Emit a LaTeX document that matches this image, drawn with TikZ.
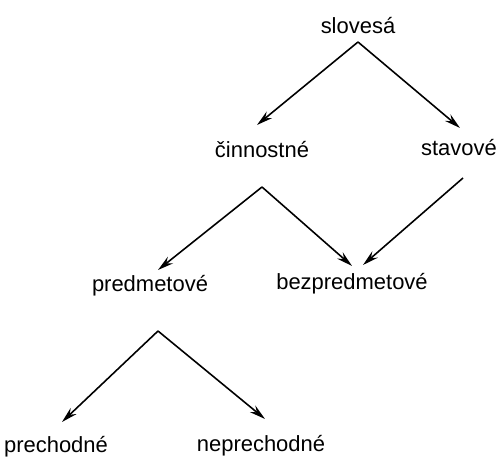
\documentclass[tikz,border=0pt]{standalone}
\usepackage{fontspec}
\setmainfont{Liberation Sans}
\usepackage{tikz}
\usetikzlibrary{arrows.meta, positioning}
\tikzstyle{arrow}=[-{Stealth[length=3.2mm, width=1.7mm, inset=1.1mm]}, line width=0.9pt, color=black]

\begin{document}
\begin{tikzpicture}[node distance=0.2cm,
  word/.style={font=\fontsize{12.5}{14}\selectfont, inner sep=0pt, anchor=base}
]
\useasboundingbox (0,0) rectangle (10.04,9.14);
\node[word] (slovesa)       at (7.16,8.48) {slovesá};
\node[word] (cinnostne)     at (5.24,6.00) {činnostné};
\node[word] (stavove)       at (9.18,6.04) {stavové};
\node[word] (predmetove)    at (3.00,3.32) {predmetové};
\node[word] (bezpredmetove) at (7.04,3.36) {bezpredmetové};
\node[word] (prechodne)     at (1.12,0.10) {prechodné};
\node[word] (neprechodne)   at (5.22,0.12) {neprechodné};

% branching points under the words
\coordinate[below=0.18cm of slovesa.base]    (slovesa-fork);
\coordinate[below=0.60cm of cinnostne.base]  (cinnostne-fork);
\coordinate[below right=0.46cm and 0.08cm of stavove.base] (stavove-fork);
\coordinate[below right=0.80cm and 0.16cm of predmetove.base] (predmetove-fork);

\draw[arrow] (slovesa-fork)    -- ([shift={(-0.10,0.31)}]cinnostne.north);
\draw[arrow] (slovesa-fork)    -- ([shift={(0.02,0.21)}]stavove.north);
\draw[arrow] (cinnostne-fork)  -- ([shift={(0.16,0.09)}]predmetove.north);
\draw[arrow] (cinnostne-fork)  -- ([shift={(0.00,0.13)}]bezpredmetove.north);
\draw[arrow] (stavove-fork)    -- ([shift={(0.22,0.15)}]bezpredmetove.north);
\draw[arrow] (predmetove-fork) -- ([shift={(0.12,0.27)}]prechodne.north);
\draw[arrow] (predmetove-fork) -- ([shift={(0.08,0.31)}]neprechodne.north);
\end{tikzpicture}
\end{document}
